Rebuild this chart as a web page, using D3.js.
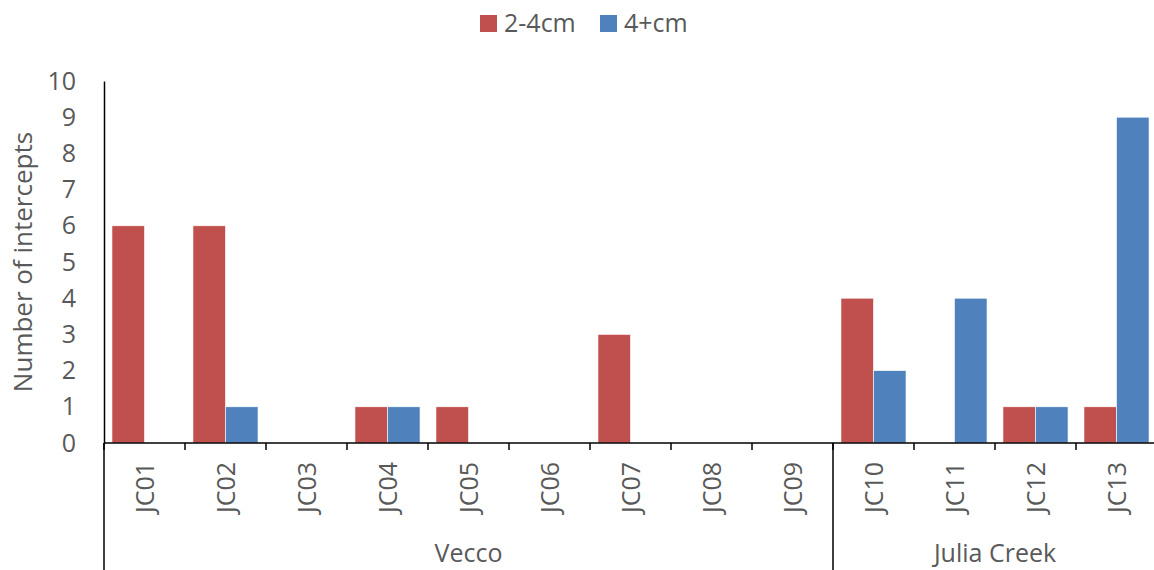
<!DOCTYPE html>
<html><head><meta charset="utf-8">
<script src="https://cdn.jsdelivr.net/npm/d3@7"></script>
<style>body{margin:0;background:#fff}svg{display:block}text{font-family:"Open Sans","Liberation Sans",sans-serif;fill:#595959}</style>
</head><body><svg id="c" width="1154" height="570"></svg>
<script>
const categories = ["JC01","JC02","JC03","JC04","JC05","JC06","JC07","JC08","JC09","JC10","JC11","JC12","JC13"];
const groupOfCat = ["Vecco","Vecco","Vecco","Vecco","Vecco","Vecco","Vecco","Vecco","Vecco","Julia Creek","Julia Creek","Julia Creek","Julia Creek"];
const groups = ["Vecco","Julia Creek"];
const seriesNames = ["2-4cm","4+cm"];
const small = [6,6,0,1,1,0,3,0,0,4,0,1,1];
const large = [0,1,0,1,0,0,0,0,0,2,4,1,9];
const yTicks = [0,1,2,3,4,5,6,7,8,9,10];
const colors = ["#C0504D","#4F81BD"];

const svg = d3.select("#c");
const x0 = 104, x1 = 1157, yBase = 443, yTop = 81;
const x = d3.scaleBand().domain(categories).range([x0,x1]).paddingInner(0).paddingOuter(0);
const xs = d3.scaleBand().domain(seriesNames).range([0,x.bandwidth()]).paddingInner(0).paddingOuter(0.245);
const y = d3.scaleLinear().domain([0,10]).range([yBase,yTop]);

const data = [small, large];
seriesNames.forEach((s,si)=>{
  svg.append("g").selectAll("rect").data(categories).join("rect")
    .attr("x",(c)=>x(c)+xs(s))
    .attr("y",(c,i)=>y(data[si][i]))
    .attr("width",xs.bandwidth())
    .attr("height",(c,i)=>y(0)-y(data[si][i]))
    .attr("fill",colors[si])
    .attr("stroke","#fff").attr("stroke-width",0.6);
});

// y axis
const ya = svg.append("g").attr("transform",`translate(${x0},0)`)
  .call(d3.axisLeft(y).tickValues(yTicks).tickSize(0).tickPadding(28).tickFormat(d3.format("d")));
ya.select(".domain").attr("stroke","#000").attr("stroke-width",1.5);
ya.selectAll("text").attr("font-size",25).style("fill","#595959").attr("font-family","Open Sans, sans-serif");

// x axis line
svg.append("line").attr("x1",x0).attr("x2",x1).attr("y1",yBase).attr("y2",yBase).attr("stroke","#000").attr("stroke-width",1.5);
// tick marks at boundaries
const bounds = categories.map(c=>x(c)).concat([x1]);
svg.append("g").selectAll("line").data(bounds).join("line")
  .attr("x1",d=>d).attr("x2",d=>d).attr("y1",yBase).attr("y2",yBase+7).attr("stroke","#000").attr("stroke-width",1.5);
// category labels
svg.append("g").selectAll("text").data(categories).join("text")
  .attr("transform",c=>`translate(${x(c)+x.bandwidth()/2+9.5},${yBase+19}) rotate(-90)`)
  .attr("text-anchor","end").attr("font-size",25).text(c=>c);
// group separators
const groupStart = groups.map(g=>x(categories[groupOfCat.indexOf(g)]));
const groupEnd = groups.map(g=>x(categories[groupOfCat.lastIndexOf(g)])+x.bandwidth());
svg.append("g").selectAll("line").data(groupStart.concat([x1])).join("line")
  .attr("x1",d=>d).attr("x2",d=>d).attr("y1",yBase).attr("y2",570).attr("stroke","#000").attr("stroke-width",1.5);
svg.append("g").selectAll("text").data(groups).join("text")
  .attr("x",(g,i)=>(groupStart[i]+groupEnd[i])/2).attr("y",562)
  .attr("text-anchor","middle").attr("font-size",25).text(g=>g);

// y title
svg.append("text").attr("transform","translate(32,262) rotate(-90)").attr("text-anchor","middle").attr("font-size",26).text("Number of intercepts");

// legend
const leg = svg.append("g");
const legX = [480,600];
seriesNames.forEach((s,i)=>{
  leg.append("rect").attr("x",legX[i]).attr("y",15).attr("width",17).attr("height",17).attr("fill",colors[i]);
  leg.append("text").attr("x",legX[i]+24).attr("y",32).attr("font-size",25).text(s);
});
</script></body></html>
